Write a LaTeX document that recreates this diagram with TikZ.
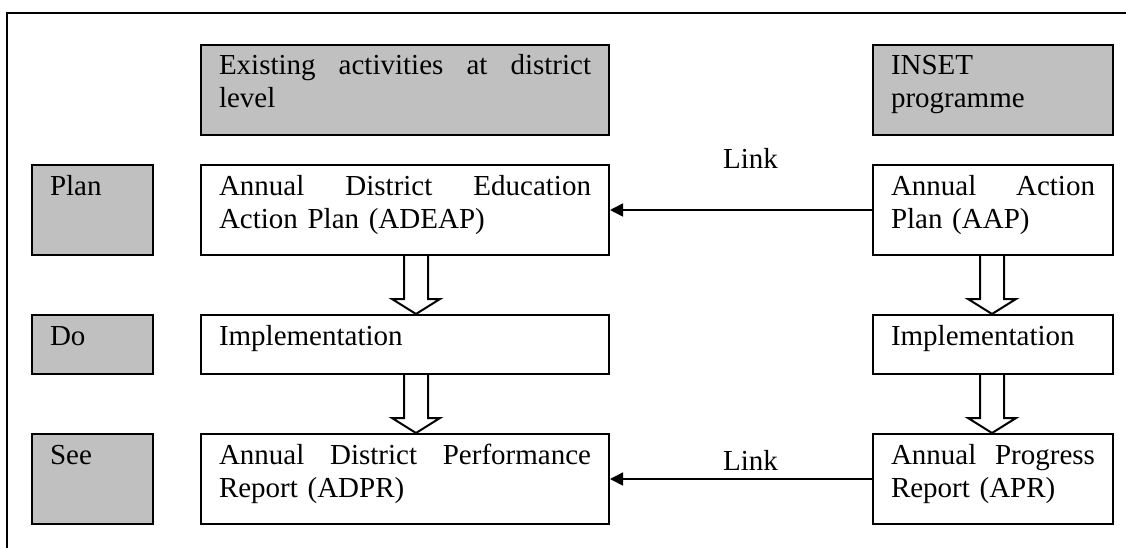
\documentclass[tikz,border=0pt]{standalone}
\usepackage{fontspec}
\setmainfont{Liberation Serif}
\usetikzlibrary{arrows.meta,calc}
\definecolor{panelgray}{HTML}{C0C0C0}

% hollow block arrow pointing down from one box to the next, centred on a column coordinate
\newcommand\hollowdown[3]{%
  \draw[hollow] ($(#1 |- #2.south)+(-12,0)$)
    -- ($(#1 |- #3.north)+(-12,-15)$)
    -- ($(#1 |- #3.north)+(-24,-15)$)
    -- (#1 |- #3.north)
    -- ($(#1 |- #3.north)+(24,-15)$)
    -- ($(#1 |- #3.north)+(12,-15)$)
    -- ($(#1 |- #2.south)+(12,0)$);
}

\begin{document}
\begin{tikzpicture}[x=1pt,y=-1pt,
  every node/.style={font=\fontsize{29}{33}\selectfont},
  frame/.style={draw=black, line width=2pt},
  box/.style={frame, anchor=north west, inner xsep=18pt, inner ysep=0pt,
              align=left, text height=30pt},
  shaded/.style={box, fill=panelgray},
  wide/.style={text width=372pt},
  narrow/.style={text width=204pt},
  tag/.style={text width=85pt},
  tall/.style={text depth=60pt},
  short/.style={text depth=29pt},
  linklabel/.style={anchor=base west, inner sep=0pt},
  link/.style={line width=1.6pt, -{Triangle[length=13pt,width=13pt]}},
  hollow/.style={line width=2pt, line join=miter}
]
\useasboundingbox (0,0) rectangle (1126,548);

% outer frame
\draw[frame] (7,548) -- (7,13) -- (1126,13);

% column headers
\node[shaded, wide, tall]   (hdrL) at (200,44) {Existing\hfill activities\hfill at\hfill district\\level};
\node[shaded, narrow, tall] (hdrR) at (872,44) {INSET\\programme};

% row tags
\node[shaded, tag, tall]  (planTag) at (31,164) {Plan};
\node[shaded, tag, short] (doTag)   at (31,314) {Do};
\node[shaded, tag, tall]  (seeTag)  at (31,433) {See};

% district column
\node[box, wide, tall]  (adeap) at (200,164) {Annual\hfill District\hfill Education\\Action Plan (ADEAP)};
\node[box, wide, short] (implL) at (200,314) {Implementation};
\node[box, wide, tall]  (adpr)  at (200,433) {Annual\hfill District\hfill Performance\\Report (ADPR)};

% INSET column
\node[box, narrow, tall]  (aap)   at (872,164) {Annual\hfill Action\\Plan (AAP)};
\node[box, narrow, short] (implR) at (872,314) {Implementation};
\node[box, narrow, tall]  (apr)   at (872,433) {Annual\hfill Progress\\Report (APR)};

% links between the columns
\draw[link] (aap.west) -- (adeap.east);
\draw[link] (apr.west) -- (adpr.east);
\node[linklabel] (linkTop) at (723,168) {Link};
\node[linklabel] (linkBot) at (723,470) {Link};

% flow within each column
\coordinate (colL) at (416,0);
\coordinate (colR) at (992,0);
\hollowdown{colL}{adeap}{implL}
\hollowdown{colL}{implL}{adpr}
\hollowdown{colR}{aap}{implR}
\hollowdown{colR}{implR}{apr}
\end{tikzpicture}
\end{document}
